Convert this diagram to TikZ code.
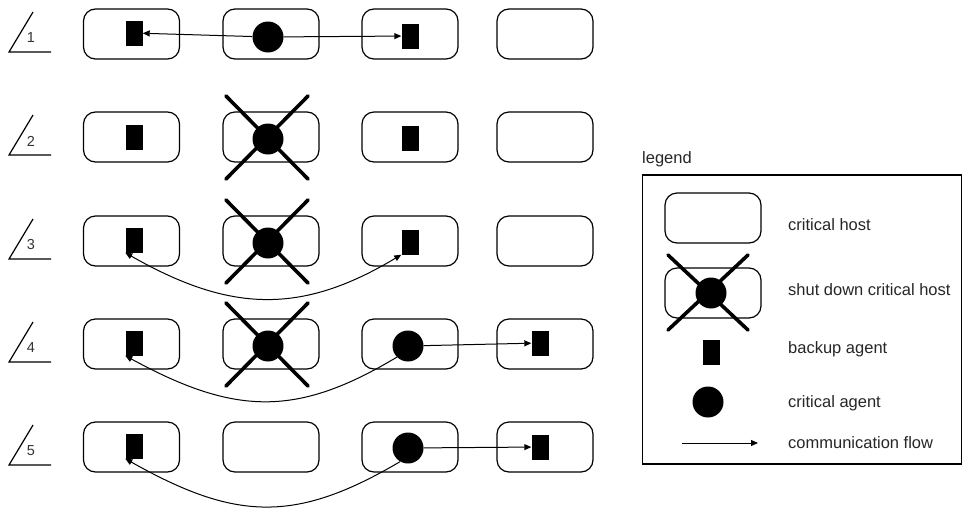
\documentclass[tikz,border=0pt]{standalone}
\usepackage{fontspec}
\setmainfont{Liberation Sans}
\usetikzlibrary{arrows.meta}
\begin{document}
\begin{tikzpicture}[x=1pt,y=-1pt,
  host/.style={draw, line width=1.2pt, rounded corners=12pt, minimum width=96pt, minimum height=50pt, inner sep=0pt},
  backup/.style={fill=black, draw=none, minimum width=17pt, minimum height=25pt, inner sep=0pt},
  crit/.style={fill=black, draw=none, circle, minimum size=31pt, inner sep=0pt},
  flow/.style={line width=1pt, -{Triangle[length=7pt,width=6pt]}},
  biflow/.style={line width=1pt, {Triangle[length=7pt,width=6pt]}-{Triangle[length=7pt,width=6pt]}},
  crossline/.style={line width=3.6pt, line cap=round},
  lbl/.style={font=\fontsize{16.5}{18}\selectfont, text=black!85, anchor=west, inner sep=0pt},
  stepnum/.style={font=\fontsize{14.5}{16}\selectfont, text=black!80, inner sep=0pt}]
\useasboundingbox (0,0) rectangle (963,509);

% step markers (slanted stroke, base line and number)
\foreach \r/\yy in {1/34,2/137,3/241,4/344,5/447}{
  \coordinate (m\r a) at (9,\yy+18);
  \coordinate (m\r b) at (33,\yy-22);
  \coordinate (m\r c) at (51,\yy+18);
  \draw[line width=1.2pt] (m\r b) -- (m\r a) -- (m\r c);
  \node[stepnum] (n\r) at (31,\yy+4) {\r};
}

% critical hosts, one row per step
\foreach \r/\yy in {1/34,2/137,3/241,4/344,5/447}{
  \node[host] (h\r1) at (131.5,\yy) {};
  \node[host] (h\r2) at (271,\yy) {};
  \node[host] (h\r3) at (410,\yy) {};
  \node[host] (h\r4) at (545,\yy) {};
}

% step 1
\node[backup] (b11) at (134,33) {};
\node[crit]   (c12) at (268,37) {};
\node[backup] (b13) at (410,36) {};
\draw[flow] (c12) -- (b11);
\draw[flow] (c12) -- (b13);

% step 2
\node[backup] (b21) at (134,137) {};
\node[crit]   (c22) at (268,139) {};
\node[backup] (b23) at (410,138) {};
\draw[crossline] ([shift={(-42,-43)}]c22.center) -- ([shift={(40,40)}]c22.center);
\draw[crossline] ([shift={(40,-43)}]c22.center) -- ([shift={(-42,40)}]c22.center);

% step 3
\node[backup] (b31) at (134,240) {};
\node[crit]   (c32) at (268,243) {};
\node[backup] (b33) at (410,242) {};
\draw[crossline] ([shift={(-42,-43)}]c32.center) -- ([shift={(40,40)}]c32.center);
\draw[crossline] ([shift={(40,-43)}]c32.center) -- ([shift={(-42,40)}]c32.center);
\draw[biflow] (b31.south west) .. controls +(105,60) and +(-100,60) .. (b33.south west);

% step 4
\node[backup] (b41) at (134,343) {};
\node[crit]   (c42) at (268,346) {};
\node[crit]   (c43) at (408,346) {};
\node[backup] (b44) at (540,343) {};
\draw[crossline] ([shift={(-42,-43)}]c42.center) -- ([shift={(40,40)}]c42.center);
\draw[crossline] ([shift={(40,-43)}]c42.center) -- ([shift={(-42,40)}]c42.center);
\draw[flow] (c43) -- (b44);
\draw[flow] (c43.-135) .. controls +(-100,60) and +(110,60) .. (b41.south west);

% step 5
\node[backup] (b51) at (134,446) {};
\node[crit]   (c53) at (408,448) {};
\node[backup] (b54) at (540,447) {};
\draw[flow] (c53) -- (b54);
\draw[flow] (c53.-120) .. controls +(-105,62) and +(110,62) .. (b51.south west);

% legend
\node[lbl] (legtitle) at (642,159) {legend};
\node[draw, line width=1.2pt, minimum width=319pt, minimum height=289pt, inner sep=0pt] (legbox) at (802,319.5) {};
\node[host] (lh1) at (713,218) {};
\node[lbl] (lt1) at (788,225) {critical host};
\node[host] (lh2) at (713,293) {};
\node[crit] (lc2) at (711,293) {};
\draw[crossline] ([shift={(-43,-38)}]lc2.center) -- ([shift={(37,37)}]lc2.center);
\draw[crossline] ([shift={(37,-38)}]lc2.center) -- ([shift={(-43,37)}]lc2.center);
\node[lbl] (lt2) at (788,290) {shut down critical host};
\node[backup] (lb) at (711,352) {};
\node[lbl] (lt3) at (788,349) {backup agent};
\node[crit] (lc) at (708,402) {};
\node[lbl] (lt4) at (788,403) {critical agent};
\coordinate (fa) at (682,443);
\coordinate (fb) at (758,443);
\draw[flow] (fa) -- (fb);
\node[lbl] (lt5) at (788,443) {communication flow};
\end{tikzpicture}
\end{document}
